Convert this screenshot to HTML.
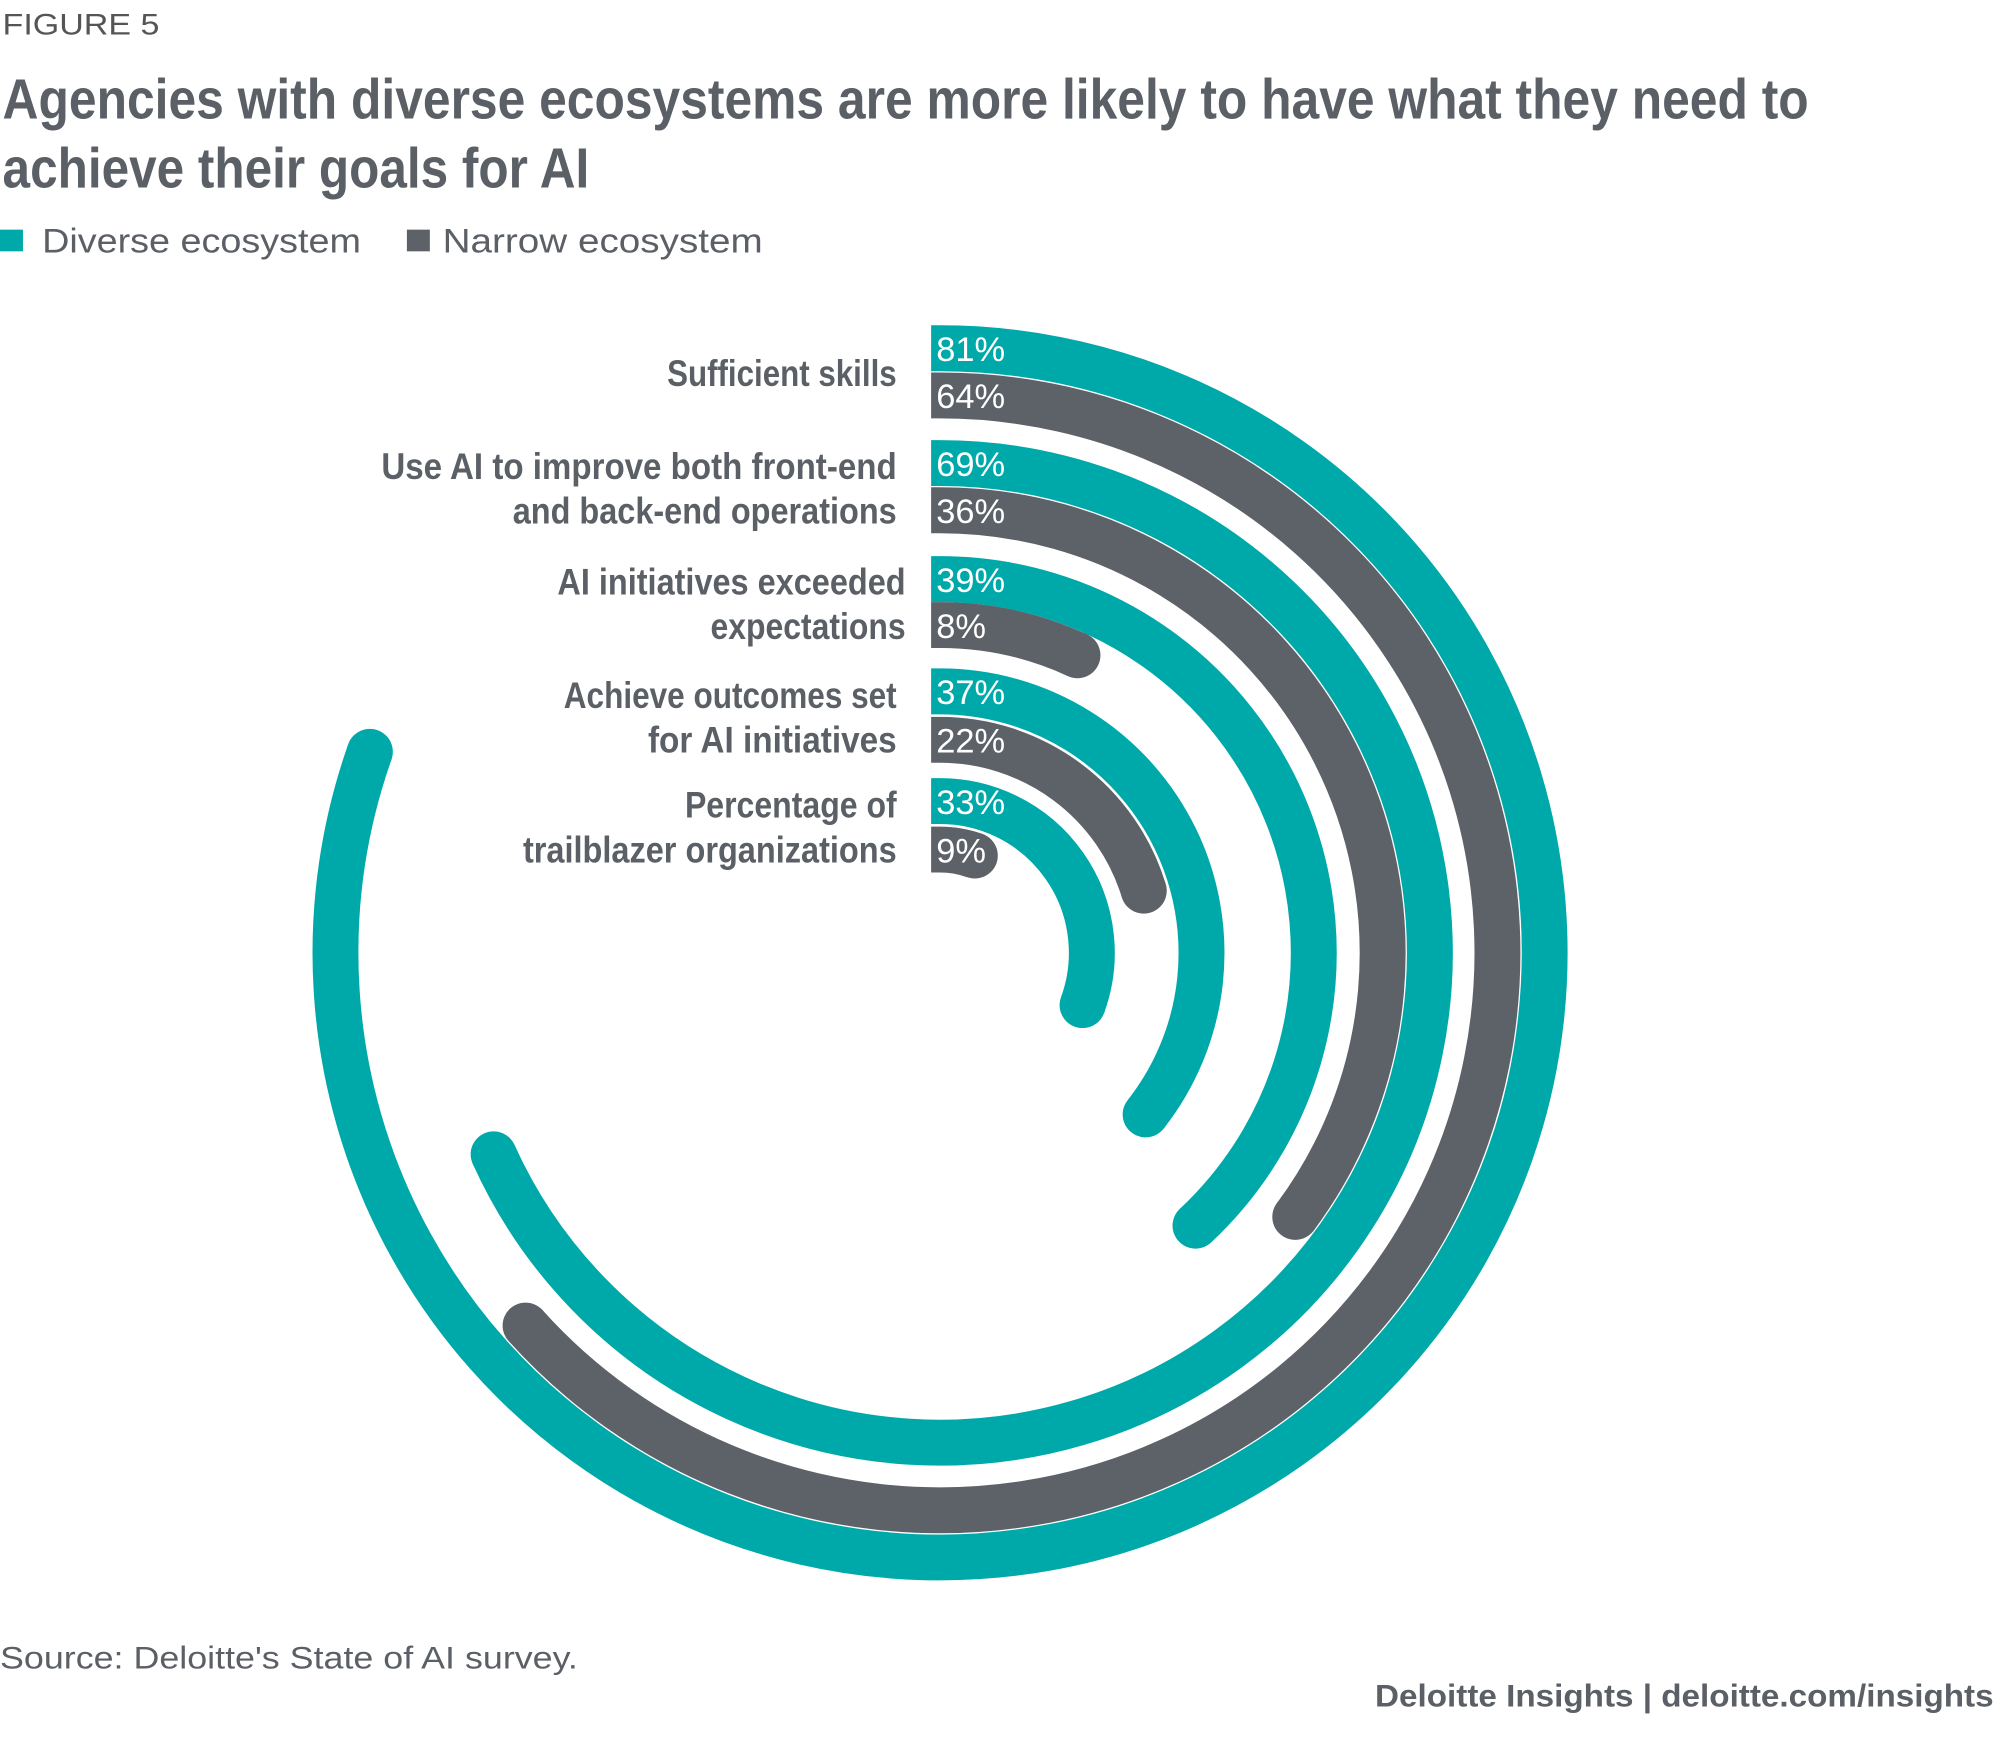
<!DOCTYPE html>
<html><head><meta charset="utf-8"><style>
html,body{margin:0;padding:0;background:#fff;}
svg{display:block;}
text{font-family:"Liberation Sans",sans-serif;}
</style></head><body>
<svg id="chart" width="2000" height="1745" viewBox="0 0 1568 1368" xmlns="http://www.w3.org/2000/svg">
<text x="2" y="27" font-size="23" fill="#555" textLength="123" lengthAdjust="spacingAndGlyphs">FIGURE 5</text>
<text x="2" y="93" font-size="44" font-weight="bold" fill="#5b5f66" textLength="1416" lengthAdjust="spacingAndGlyphs">Agencies with diverse ecosystems are more likely to have what they need to</text>
<text x="2" y="147" font-size="44" font-weight="bold" fill="#5b5f66" textLength="460" lengthAdjust="spacingAndGlyphs">achieve their goals for AI</text>
<g>
<rect x="0" y="180" width="18" height="17" fill="#00a9a9"/>
<text x="33" y="198" font-size="27" fill="#5b5f66" textLength="250" lengthAdjust="spacingAndGlyphs">Diverse ecosystem</text>
<rect x="319" y="180" width="18" height="17" fill="#5d6168"/>
<text x="347" y="198" font-size="27" fill="#5b5f66" textLength="251" lengthAdjust="spacingAndGlyphs">Narrow ecosystem</text>
</g>
<g id="arcs"></g>
<g id="cats"></g>
<text x="0" y="1308" font-size="25" fill="#5b5f66" textLength="453" lengthAdjust="spacingAndGlyphs">Source: Deloitte's State of AI survey.</text>
<text x="1563" y="1338" font-size="25" font-weight="bold" fill="#5b5f66" text-anchor="end" textLength="485" lengthAdjust="spacingAndGlyphs">Deloitte Insights | deloitte.com/insights</text>
</svg>
<script>
const categories = ["Sufficient skills","Use AI to improve both front-end and back-end operations","AI initiatives exceeded expectations","Achieve outcomes set for AI initiatives","Percentage of trailblazer organizations"];
const diverseValues = [81,69,39,37,33];
const narrowValues = [64,36,8,22,9];
const categoryLines = [["Sufficient skills"],["Use AI to improve both front-end","and back-end operations"],["AI initiatives exceeded","expectations"],["Achieve outcomes set","for AI initiatives"],["Percentage of","trailblazer organizations"]];

const NS="http://www.w3.org/2000/svg";
const cx=737, cy=747, bw=36;
const radii=[474,437,384,347,293,257,205,167,119,81];
const lineW=[[180],[404,301],[273,153],[261,195],[166,293]];
const lineX=[703,703,710,703,703];
const arcs=document.getElementById('arcs');
const cats=document.getElementById('cats');
function pt(r,a){return [cx+r*Math.sin(a), cy-r*Math.cos(a)];}
function drawArc(r,val,color,name){
  const a=Math.max(0.02, val/100*2*Math.PI - (bw/2)/r);
  const g=document.createElementNS(NS,'g');
  const [x1,y1]=pt(r,0),[x2,y2]=pt(r,a);
  const p=document.createElementNS(NS,'path');
  p.setAttribute('d',`M${x1-7},${y1} L${x1},${y1} A${r},${r} 0 ${a>Math.PI?1:0} 1 ${x2},${y2}`);
  p.setAttribute('fill','none');p.setAttribute('stroke',color);p.setAttribute('stroke-width',bw);
  
  
  g.appendChild(p);
  const c=document.createElementNS(NS,'circle');
  c.setAttribute('cx',x2);c.setAttribute('cy',y2);c.setAttribute('r',bw/2);c.setAttribute('fill',color);
  
  
  g.appendChild(c);
  const t=document.createElementNS(NS,'text');
  t.setAttribute('x',734);t.setAttribute('y',y1+10);t.setAttribute('font-size',27);t.setAttribute('fill','#fff');
  t.textContent=val+'%';
  
  
  g.appendChild(t);
  arcs.appendChild(g);
}
categories.forEach((c,i)=>{
  drawArc(radii[2*i],diverseValues[i],'#00a9a9','arc-diverse-'+(i+1));
  drawArc(radii[2*i+1],narrowValues[i],'#5d6168','arc-narrow-'+(i+1));
  const lines=categoryLines[i];
  const mid=(cy-radii[2*i]+cy-radii[2*i+1])/2;
  const y0=lines.length===1? mid+11 : mid-6;
  lines.forEach((l,j)=>{
    const t=document.createElementNS(NS,'text');
    t.setAttribute('x',lineX[i]);t.setAttribute('y',y0+j*35);
    t.setAttribute('text-anchor','end');t.setAttribute('font-size',29);t.setAttribute('font-weight','bold');
    t.setAttribute('fill','#5b5f66');
    t.setAttribute('textLength',lineW[i][j]);t.setAttribute('lengthAdjust','spacingAndGlyphs');
    t.textContent=l;
    
    
    cats.appendChild(t);
  });
});
</script>
</body></html>
